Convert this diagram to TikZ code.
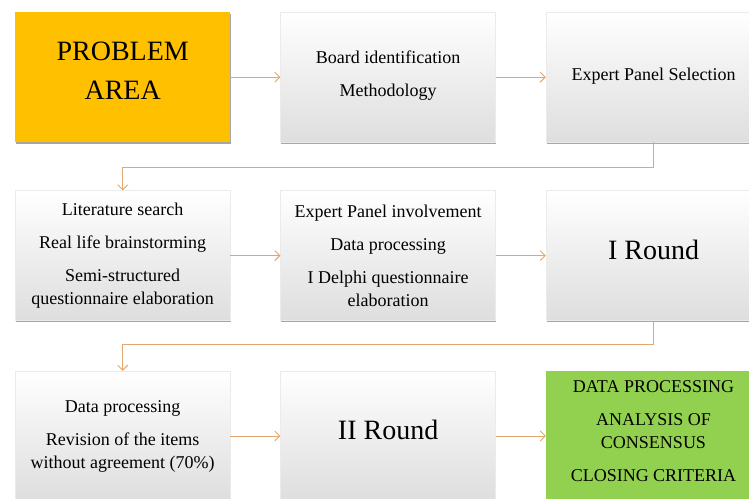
\documentclass[tikz,border=0pt]{standalone}
\usepackage{fontspec}
\setmainfont{Liberation Serif}
\usepackage[HTML]{xcolor}
\usepackage{tikz}
\usetikzlibrary{positioning, arrows.meta, shadows}

\definecolor{linkcol}{HTML}{E0A870}
\definecolor{probcol}{HTML}{FFC000}
\definecolor{donecol}{HTML}{92D050}

\begin{document}
\begin{tikzpicture}[
    >={Straight Barb[length=5pt, width=10pt]},
    every node/.style={font=\fontsize{18}{23}\selectfont},
    card/.style={minimum width=215pt, minimum height=130pt, inner sep=0pt, align=center,
        drop shadow={shadow xshift=0.8pt, shadow yshift=-1.8pt, fill=black, opacity=0.35}},
    plain/.style={card, top color=white, bottom color=black!13, draw=black!8},
    big/.style={font=\fontsize{28}{39}\selectfont, text depth=12pt},
    link/.style={->, draw=linkcol, line width=0.9pt}
]
    \useasboundingbox (0pt,0pt) rectangle (749pt,-498pt);
    \clip (0pt,0pt) rectangle (749pt,-498pt);

    % Define nodes
    \node (PA) [card, fill=probcol, big, anchor=north west] at (15pt,-12pt) {PROBLEM\\AREA};
    \node (BI) [plain, right=50pt of PA, text depth=8pt] {Board identification\\[10pt]Methodology};
    \node (EP) [plain, right=50pt of BI, text depth=6pt] {Expert Panel Selection};

    \node (LS) [plain, below=48pt of PA] {Literature search\\[10pt]Real life brainstorming\\[10pt]Semi-structured\\questionnaire elaboration};
    \node (PI) [plain, right=50pt of LS] {Expert Panel involvement\\[10pt]Data processing\\[10pt]I Delphi questionnaire\\elaboration};
    \node (R1) [plain, big, right=50pt of PI] {I Round};

    \node (DP) [plain, below=50pt of LS] {Data processing\\[10pt]Revision of the items\\without agreement (70\%)};
    \node (R2) [plain, big, right=50pt of DP] {II Round};
    \node (DC) [card, fill=donecol, right=50pt of R2, text depth=10pt] {DATA PROCESSING\\[10pt]ANALYSIS OF\\CONSENSUS\\[10pt]CLOSING CRITERIA};

    % Draw arrows
    \draw[link] (PA) -- (BI);
    \draw[link] (BI) -- (EP);
    \draw[link] (EP.south) -- ++(0,-25pt) -| (LS.north);
    \draw[link] (LS) -- (PI);
    \draw[link] (PI) -- (R1);
    \draw[link] (R1.south) -- ++(0,-24pt) -| (DP.north);
    \draw[link] (DP) -- (R2);
    \draw[link] (R2) -- (DC);
\end{tikzpicture}
\end{document}
